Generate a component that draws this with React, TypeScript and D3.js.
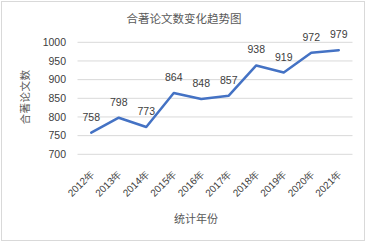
import React from "react";
import * as d3 from "d3";

const years = ["2012年", "2013年", "2014年", "2015年", "2016年", "2017年", "2018年", "2019年", "2020年", "2021年"];
const counts = [758, 798, 773, 864, 848, 857, 938, 919, 972, 979];
const yTicks = [700, 750, 800, 850, 900, 950, 1000];

const W = 368;
const H = 244;
const plot = { left: 77.5, right: 352.5, top: 42.3, bottom: 154.3 };
const cjk = "'Noto Sans CJK SC', 'Noto Sans', sans-serif";
const num = "'Liberation Sans', Arial, sans-serif";

export default function App() {
  const x = d3.scaleBand<string>().domain(years).range([plot.left, plot.right]);
  const y = d3.scaleLinear().domain([700, 1000]).range([plot.bottom, plot.top]);
  const cx = (d: string) => (x(d) as number) + x.bandwidth() / 2;
  const line = d3
    .line<number>()
    .x((_, i) => cx(years[i]))
    .y((v) => y(v));

  return (
    <svg
      width={W}
      height={H}
      style={{ position: "absolute", left: 0, top: 0, background: "#fff" }}
    >
      <rect x={1.5} y={1.5} width={363} height={239} fill="#fff" stroke="#d9d9d9" strokeWidth={1} />
      <text x={184} y={23} textAnchor="middle" fontFamily={cjk} fontSize={11.5} fill="#595959">
        合著论文数变化趋势图
      </text>
      {yTicks.map((t) => (
        <g key={t}>
          <line x1={plot.left} x2={plot.right} y1={y(t)} y2={y(t)} stroke="#d9d9d9" strokeWidth={1} />
          <text x={66} y={y(t)} dy="0.35em" textAnchor="end" fontFamily={num} fontSize={10.5} fill="#404040">
            {t}
          </text>
        </g>
      ))}
      <path d={line(counts) || ""} fill="none" stroke="#4472c4" strokeWidth={2.5} strokeLinejoin="round" strokeLinecap="round" />
      {counts.map((v, i) => (
        <text
          key={i}
          x={cx(years[i])}
          y={y(v) - 12}
          textAnchor="middle"
          fontFamily={num}
          fontSize={10.5}
          fill="#404040"
        >
          {v}
        </text>
      ))}
      {years.map((d) => (
        <text
          key={d}
          transform={`translate(${cx(d) + 1},172) rotate(-45)`}
          dy="0.35em"
          textAnchor="end"
          fontFamily={num}
          fontSize={10}
          fill="#404040"
        >
          {d}
        </text>
      ))}
      <text x={196} y={219} dy="0.35em" textAnchor="middle" fontFamily={cjk} fontSize={11} fill="#595959">
        统计年份
      </text>
      <text
        transform={`translate(25,97) rotate(-90)`}
        dy="0.35em"
        textAnchor="middle"
        fontFamily={cjk}
        fontSize={10.5}
        letterSpacing={0.5}
        fill="#595959"
      >
        合著论文数
      </text>
    </svg>
  );
}
